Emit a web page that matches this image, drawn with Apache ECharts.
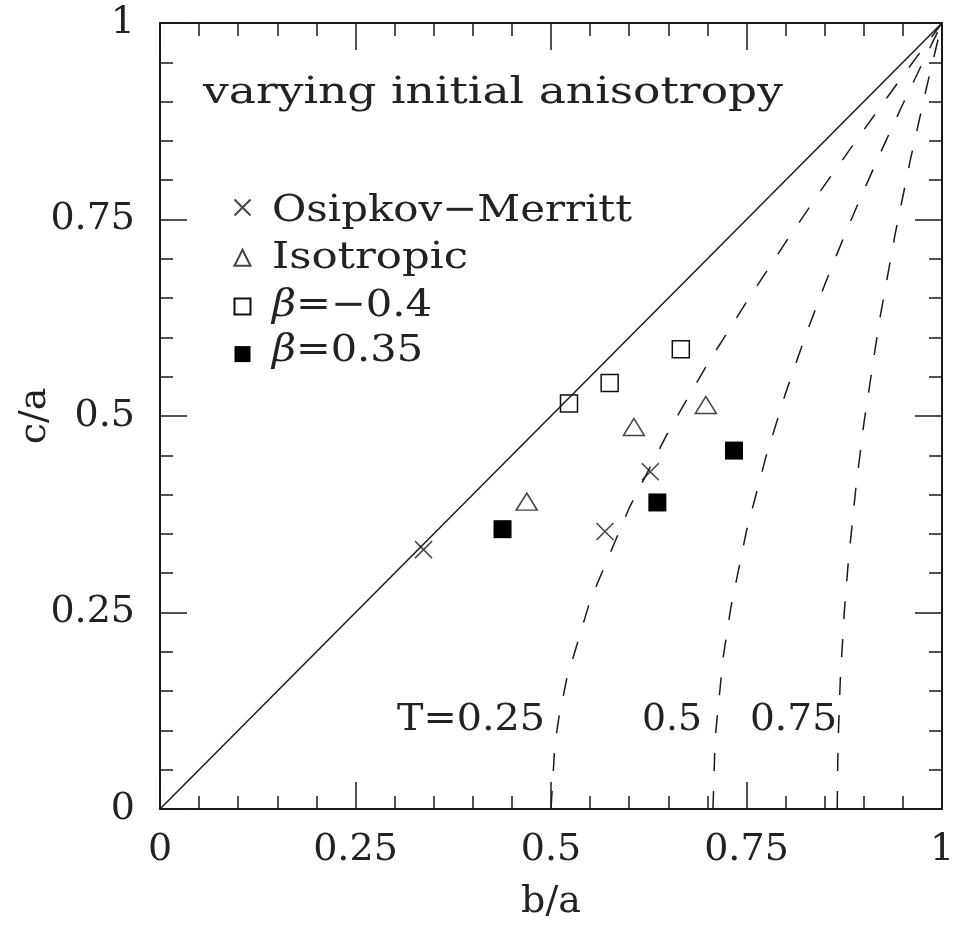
<!DOCTYPE html>
<html><head><meta charset="utf-8">
<script src="https://cdn.jsdelivr.net/npm/echarts@6/dist/echarts.min.js"></script>
<style>html,body{margin:0;padding:0;background:#fff}#c{width:959px;height:928px}</style>
</head><body><div id="c"></div>
<script>
// data (b/a, c/a)
const diagonal = [[0, 0], [1, 1]];
const curveA = [[0.5,0],[0.505,0.082],[0.51,0.116],[0.52,0.165],[0.55,0.265],[0.6,0.383],[0.65,0.480],[0.7,0.566],[0.75,0.645],[0.8,0.721],[0.85,0.794],[0.9,0.864],[0.95,0.933],[1,1]];
const curveB = [[0.7071,0],[0.71,0.091],[0.72,0.192],[0.73,0.2565],[0.75,0.354],[0.775,0.4486],[0.8,0.529],[0.825,0.601],[0.85,0.667],[0.875,0.729],[0.9,0.787],[0.925,0.843],[0.95,0.897],[0.975,0.949],[1,1]];
const curveC = [[0.866,0],[0.867,0.082],[0.87,0.166],[0.875,0.25],[0.88,0.312],[0.89,0.410],[0.9,0.490],[0.92,0.621],[0.94,0.731],[0.96,0.828],[0.98,0.917],[1,1]];
const osipkov = [[0.337,0.330],[0.569,0.353],[0.627,0.429]];
const isotropic = [[0.469,0.391],[0.606,0.486],[0.698,0.514]];
const betaNeg = [[0.523,0.516],[0.575,0.542],[0.666,0.585]];
const betaPos = [[0.438,0.356],[0.636,0.390],[0.734,0.456]];
const seriesNames = ['Osipkov\u2212Merritt', 'Isotropic', '\u03b2=\u22120.4', '\u03b2=0.35'];
const tLabels = ['T=0.25', '0.5', '0.75'];
const titleText = 'varying initial anisotropy';

const FONT = 'DejaVu Serif';
const FS = 38;
const ink = '#1a1a1a';
const txt = '#222';

// text measuring so the wide reference lettering can be matched with scaleX
const mctx = document.createElement('canvas').getContext('2d');
function measure(parts) {
  let w = 0;
  for (const p of parts) { mctx.font = (p.italic ? 'italic ' : '') + FS + 'px "' + FONT + '"'; w += mctx.measureText(p.t).width; }
  return w;
}
function label(x, baseline, width, parts) {
  const s = width / measure(parts);
  const rich = {i: {fontFamily: FONT, fontStyle: 'italic', fontSize: FS, fill: txt}, n: {fontFamily: FONT, fontSize: FS, fill: txt}};
  const text = parts.map(p => '{' + (p.italic ? 'i' : 'n') + '|' + p.t + '}').join('');
  return {type: 'text', x: x, y: baseline - 31, scaleX: s, originX: 0, originY: 0, z: 10,
    style: {text: text, rich: rich, fontFamily: FONT, fontSize: FS, fill: txt, align: 'left', verticalAlign: 'top'}};
}

const chart = echarts.init(document.getElementById('c'), null, {renderer: 'canvas'});
const axisCommon = {
  min: 0, max: 1, interval: 0.25,
  axisLine: {show: true, onZero: false, lineStyle: {color: ink, width: 2}},
  axisTick: {show: true, inside: true, length: 27, lineStyle: {color: ink, width: 1.5}},
  minorTick: {show: true, splitNumber: 5, length: 13, lineStyle: {color: ink, width: 1.5}},
  splitLine: {show: false}, minorSplitLine: {show: false}
};
const lbl = {fontFamily: FONT, fontSize: FS, color: txt, formatter: v => String(+v.toFixed(2))};
const dashed = {color: ink, width: 1.5, type: [18, 20]};
chart.setOption({
  animation: false,
  backgroundColor: '#fff',
  grid: {left: 160, right: 17, top: 23, bottom: 119, containLabel: false, outerBoundsMode: 'none'},
  xAxis: [
    Object.assign({type: 'value', position: 'bottom', name: 'b/a', nameLocation: 'middle', nameGap: 74,
      nameTextStyle: {fontFamily: FONT, fontSize: FS, color: txt},
      axisLabel: Object.assign({margin: 22}, lbl)}, axisCommon),
    Object.assign({type: 'value', position: 'top', axisLabel: {show: false}}, axisCommon)
  ],
  yAxis: [
    Object.assign({type: 'value', position: 'left', name: 'c/a', nameLocation: 'middle', nameGap: 106, nameRotate: 90,
      nameMoveOverlap: false,
      nameTextStyle: {fontFamily: FONT, fontSize: FS, color: txt},
      axisLabel: Object.assign({margin: 25}, lbl)}, axisCommon),
    Object.assign({type: 'value', position: 'right', axisLabel: {show: false}}, axisCommon)
  ],
  legend: {
    orient: 'vertical', left: 232, top: 197, padding: 0, itemWidth: 16, itemHeight: 16, itemGap: 30.7,
    data: seriesNames, selectedMode: false,
    textStyle: {fontSize: 10}, formatter: () => ''
  },
  graphic: [
    label(203, 105, 580, [{t: titleText}]),
    label(272, 223, 360, [{t: seriesNames[0]}]),
    label(272, 270, 196, [{t: seriesNames[1]}]),
    label(272, 318, 160, [{t: '\u03b2', italic: true}, {t: seriesNames[2].slice(1)}]),
    label(272, 363, 151, [{t: '\u03b2', italic: true}, {t: seriesNames[3].slice(1)}]),
    label(397, 732, 148, [{t: tLabels[0]}]),
    label(642, 732, 60, [{t: tLabels[1]}]),
    label(750, 732, 87, [{t: tLabels[2]}])
  ],
  series: [
    {type: 'line', data: diagonal, symbol: 'none', lineStyle: {color: ink, width: 1.5}, silent: true},
    {type: 'line', data: curveA, symbol: 'none', lineStyle: dashed, silent: true},
    {type: 'line', data: curveB, symbol: 'none', lineStyle: dashed, silent: true},
    {type: 'line', data: curveC, symbol: 'none', lineStyle: dashed, silent: true},
    {type: 'scatter', name: seriesNames[0], data: osipkov, symbol: 'path://M0,0L10,10M10,0L0,10', symbolSize: 17,
      itemStyle: {color: 'none', borderColor: '#444', borderWidth: 1.5, opacity: 1}},
    {type: 'scatter', name: seriesNames[1], data: isotropic, symbol: 'triangle', symbolSize: [21, 17],
      itemStyle: {color: '#fff', borderColor: '#444', borderWidth: 1.5, opacity: 1}},
    {type: 'scatter', name: seriesNames[2], data: betaNeg, symbol: 'rect', symbolSize: 17,
      itemStyle: {color: '#fff', borderColor: '#111', borderWidth: 1.5, opacity: 1}},
    {type: 'scatter', name: seriesNames[3], data: betaPos, symbol: 'rect', symbolSize: 18,
      itemStyle: {color: '#000', borderColor: '#000', borderWidth: 0, opacity: 1}}
  ]
});
</script></body></html>
